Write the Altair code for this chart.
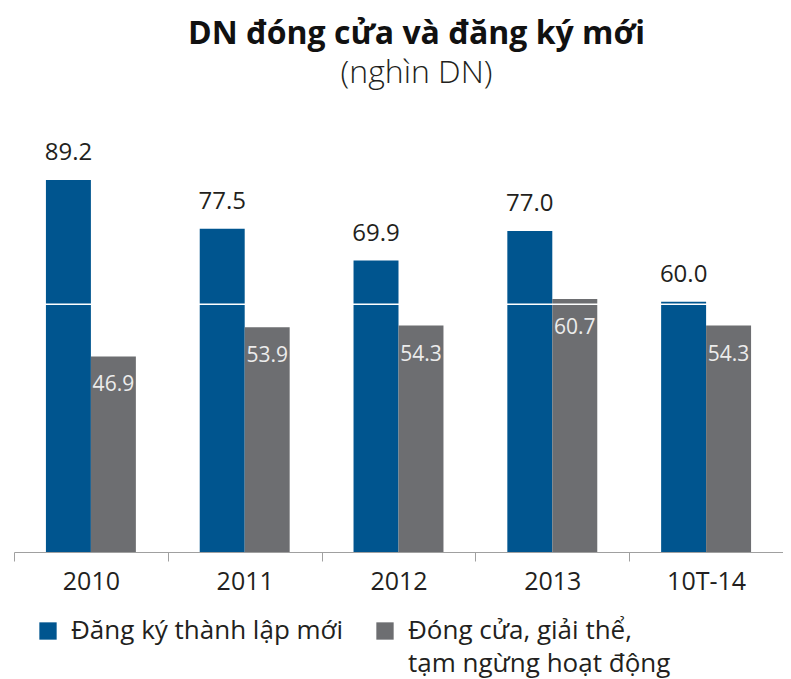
import altair as alt
import pandas as pd

categories = ["2010", "2011", "2012", "2013", "10T-14"]
series_names = ["Đăng ký thành lập mới", "Đóng cửa, giải thể, tạm ngừng hoạt động"]
new_registered = [89.2, 77.5, 69.9, 77.0, 60.0]
closed = [46.9, 53.9, 54.3, 60.7, 54.3]
white_line = [59.4]

BLUE = "#00558f"
GRAY = "#6d6e71"
TEXT = "#231f20"
FONT = "Open Sans"

rows = []
for c, a, b in zip(categories, new_registered, closed):
    rows.append({"cat": c, "series": series_names[0], "value": a})
    rows.append({"cat": c, "series": series_names[1], "value": b})
df = pd.DataFrame(rows)

x = alt.X("cat:N", sort=categories, title=None,
          scale=alt.Scale(paddingInner=0, paddingOuter=0),
          axis=alt.Axis(labelAngle=0, labelFontSize=25, labelFont=FONT, labelColor=TEXT,
                        tickBand="extent", tickSize=9, tickColor="#a0a0a0",
                        domainColor="#a0a0a0", domainWidth=1.2, labelPadding=8, grid=False))
y = alt.Y("value:Q", scale=alt.Scale(domain=[0, 100]), axis=None)

base = alt.Chart(df)

label_expr = ("datum.label == 'Đóng cửa, giải thể, tạm ngừng hoạt động' "
              "? ['Đóng cửa, giải thể,', 'tạm ngừng hoạt động'] : [datum.label, ' ']")

bars = base.mark_bar().encode(
    x=x,
    xOffset=alt.XOffset("series:N", sort=series_names,
                        scale=alt.Scale(paddingOuter=0.71, paddingInner=0)),
    y=y,
    color=alt.Color("series:N", sort=series_names,
                    scale=alt.Scale(domain=series_names, range=[BLUE, GRAY]),
                    legend=alt.Legend(
                        title=None, orient="none", legendX=21, legendY=483,
                        direction="horizontal", columns=2, columnPadding=28,
                        symbolType="square", symbolSize=300, symbolStrokeWidth=0,
                        labelFontSize=26, labelFont=FONT, labelColor=TEXT,
                        labelLimit=500, labelOffset=10, labelBaseline="middle",
                        labelExpr=label_expr,
                    )),
)

top_labels = base.transform_filter(alt.datum.series == series_names[0]).mark_text(
    baseline="bottom", dy=-15, fontSize=24, font=FONT, color=TEXT
).encode(
    x=x,
    xOffset=alt.XOffset("series:N", sort=series_names),
    y=y,
    text=alt.Text("value:Q", format=".1f"),
)

in_labels = base.transform_filter(alt.datum.series == series_names[1]).mark_text(
    baseline="top", dy=18, fontSize=21, font=FONT, color="#ececec"
).encode(
    x=x,
    xOffset=alt.XOffset("series:N", sort=series_names),
    y=y,
    text=alt.Text("value:Q", format=".1f"),
)

rule = alt.Chart(pd.DataFrame({"value": white_line})).mark_rule(
    color="white", strokeWidth=1.5
).encode(y=alt.Y("value:Q"))

chart = alt.layer(bars, top_labels, in_labels, rule).resolve_scale(
    xOffset="shared"
).properties(
    width=769,
    height=417,
    title=alt.TitleParams(
        text="DN đóng cửa và đăng ký mới",
        subtitle="(nghìn DN)",
        anchor="middle", dx=18,
        font=FONT, fontSize=32, fontWeight="bold", color="#111111",
        subtitleFont=FONT, subtitleFontSize=32, subtitleFontWeight=300, subtitleColor=TEXT,
        subtitlePadding=7, offset=45,
    ),
    autosize=alt.AutoSizeParams(type="none"),
    padding={"left": 6, "right": 0, "top": 127, "bottom": 130},
)

chart = chart.configure(style={"guide-label": {"lineHeight": 33}}).configure_view(stroke=None)

chart.save("out.html", embed_options={"renderer": "svg", "actions": False})
